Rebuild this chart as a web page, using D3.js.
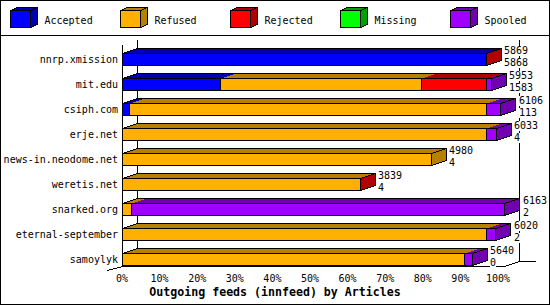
<!DOCTYPE html>
<html><head><meta charset="utf-8">
<script src="https://cdn.jsdelivr.net/npm/d3@7"></script>
<style>body{margin:0;background:#fff}svg{display:block}text{font-family:"DejaVu Sans Mono",monospace;}</style>
</head><body><svg id="c" width="550" height="305"></svg>
<script>
const feeds = ["nnrp.xmission","mit.edu","csiph.com","erje.net","news-in.neodome.net","weretis.net","snarked.org","eternal-september","samoylyk"];
const accepted = [5868,1583,113,4,4,4,2,2,0];
const refused  = [0,3235,5756,5865,4976,3834,150,5867,5521];
const rejected = [1,1051,0,0,0,1,0,0,0];
const missing  = [0,0,0,0,0,0,0,0,0];
const spooled  = [0,84,237,164,0,0,6011,151,119];
const seriesNames = ["Accepted","Refused","Rejected","Missing","Spooled"];
const seriesColors = ["#0000FF","#FFB000","#FF0000","#00FF00","#A000FF"];
const seriesDark   = ["#0000B0","#B88000","#B00000","#00A000","#7000B0"];
const tickValues = [0,10,20,30,40,50,60,70,80,90,100];
const title = "Outgoing feeds (innfeed) by Articles";

const series = [accepted, refused, rejected, missing, spooled];
const totals = feeds.map((f,i)=>d3.sum(series, s=>s[i]));

const svg = d3.select("#c").style("shape-rendering","crispEdges");
const DX = 15, DY = -5;
const x = d3.scaleLinear().domain([0, d3.max(totals)]).range([122.5, 504.5]);
const xl = d3.scaleLinear().domain([0,100]).range([121.5, 497.5]);
const y = d3.scaleBand().domain(feeds).range([45, 270]).padding(0);
const barOff = 8.5, barH = 12;

// border
svg.append("rect").attr("x",0.5).attr("y",0.5).attr("width",549).attr("height",304).attr("fill","none").attr("stroke","#000");
svg.append("line").attr("x1",0).attr("x2",550).attr("y1",35.5).attr("y2",35.5).attr("stroke","#000");

// legend
const lg = svg.append("g");
seriesNames.forEach((n,k)=>{
  const bx = 10.5 + k*110;
  const g = lg.append("g");
  g.append("path").attr("d",`M${bx},10.5L${bx+7},7.5L${bx+27},7.5L${bx+20},10.5Z`).attr("fill",seriesDark[k]).attr("stroke","#000");
  g.append("path").attr("d",`M${bx+20},10.5L${bx+27},7.5L${bx+27},24.5L${bx+20},27.5Z`).attr("fill",seriesDark[k]).attr("stroke","#000");
  g.append("rect").attr("x",bx).attr("y",10.5).attr("width",20).attr("height",17).attr("fill",seriesColors[k]).attr("stroke","#000");
  g.append("text").attr("x",bx+34).attr("y",24).attr("font-size","10px").attr("fill","#000").text(n);
});

// frame lines
const fr = svg.append("g").attr("stroke","#000").attr("fill","none");
fr.append("line").attr("x1",x(0)+DX).attr("x2",x(0)+DX).attr("y1",40).attr("y2",261.5);
fr.append("line").attr("x1",x.range()[1]+DX).attr("x2",x.range()[1]+DX).attr("y1",40).attr("y2",261.5);
fr.append("line").attr("x1",x(0)).attr("x2",x(0)).attr("y1",45).attr("y2",266.5);
fr.append("path").attr("d",`M${x(0)-DX},270.5L${x(0)},266.5L${x.range()[1]},266.5L${x.range()[1]+DX},261.5L${x.range()[1]+DX+16},261.5`);

// bars
feeds.forEach((f,i)=>{
  const top = y(f)+barOff, bot = top+barH;
  const g = svg.append("g");
  let cum = 0, last = -1;
  const segs = [];
  series.forEach((s,k)=>{
    if (s[i]>0){ segs.push({k, x0:x(cum), x1:x(cum+s[i])}); last=k; }
    cum += s[i];
  });
  const xe = Math.round(x(cum)-0.5)+0.5;
  segs.forEach(sg=>{
    const a = Math.round(sg.x0-0.5)+0.5, b = Math.round(sg.x1-0.5)+0.5;
    g.append("path").attr("d",`M${a},${top}L${a+DX},${top+DY}L${b+DX},${top+DY}L${b},${top}Z`).attr("fill",seriesDark[sg.k]);
  });
  g.append("path").attr("d",`M${x(0)},${top}L${x(0)+DX},${top+DY}L${xe+DX},${top+DY}L${xe},${top}Z`).attr("fill","none").attr("stroke","#000");
  g.append("path").attr("d",`M${xe},${top}L${xe+DX},${top+DY}L${xe+DX},${bot+DY}L${xe},${bot}Z`).attr("fill",seriesDark[last]).attr("stroke","#000");
  segs.forEach(sg=>{
    const a = Math.round(sg.x0-0.5)+0.5, b = Math.round(sg.x1-0.5)+0.5;
    g.append("rect").attr("x",a).attr("y",top).attr("width",Math.max(0,b-a)).attr("height",barH).attr("fill",seriesColors[sg.k]).attr("stroke","#000");
  });
  svg.append("text").attr("x",118).attr("y",top+9.5).attr("text-anchor","end").attr("font-size","10px").text(f);
});

// value labels with white background
feeds.forEach((f,i)=>{
  const top = y(f)+barOff;
  const lx = Math.round(x(totals[i])) + 18;
  [[String(totals[i]), top+0.5],[String(accepted[i]), top+12]].forEach(([t,by])=>{
    const g = svg.append("g");
    const bg = g.append("rect").attr("fill","#fff").attr("stroke","none");
    const tx = g.append("text").attr("x",lx).attr("y",by).attr("font-size","10px").text(t);
    const bb = tx.node().getBBox();
    bg.attr("x",bb.x).attr("y",by-8).attr("width",bb.width).attr("height",10);
  });
});

// x axis labels
const ax = svg.append("g").attr("transform","translate(0,274.5)")
  .call(d3.axisBottom(xl).tickValues(tickValues).tickFormat(d=>d+"%").tickSize(0).tickPadding(0));
ax.select(".domain").remove();
ax.selectAll("text").attr("font-family","DejaVu Sans Mono").attr("font-size","10px").attr("fill","#000").attr("dy","0.71em");

svg.append("text").attr("x",275).attr("y",296).attr("text-anchor","middle").attr("font-size","11.6px").attr("font-weight","bold").text(title);
</script></body></html>
